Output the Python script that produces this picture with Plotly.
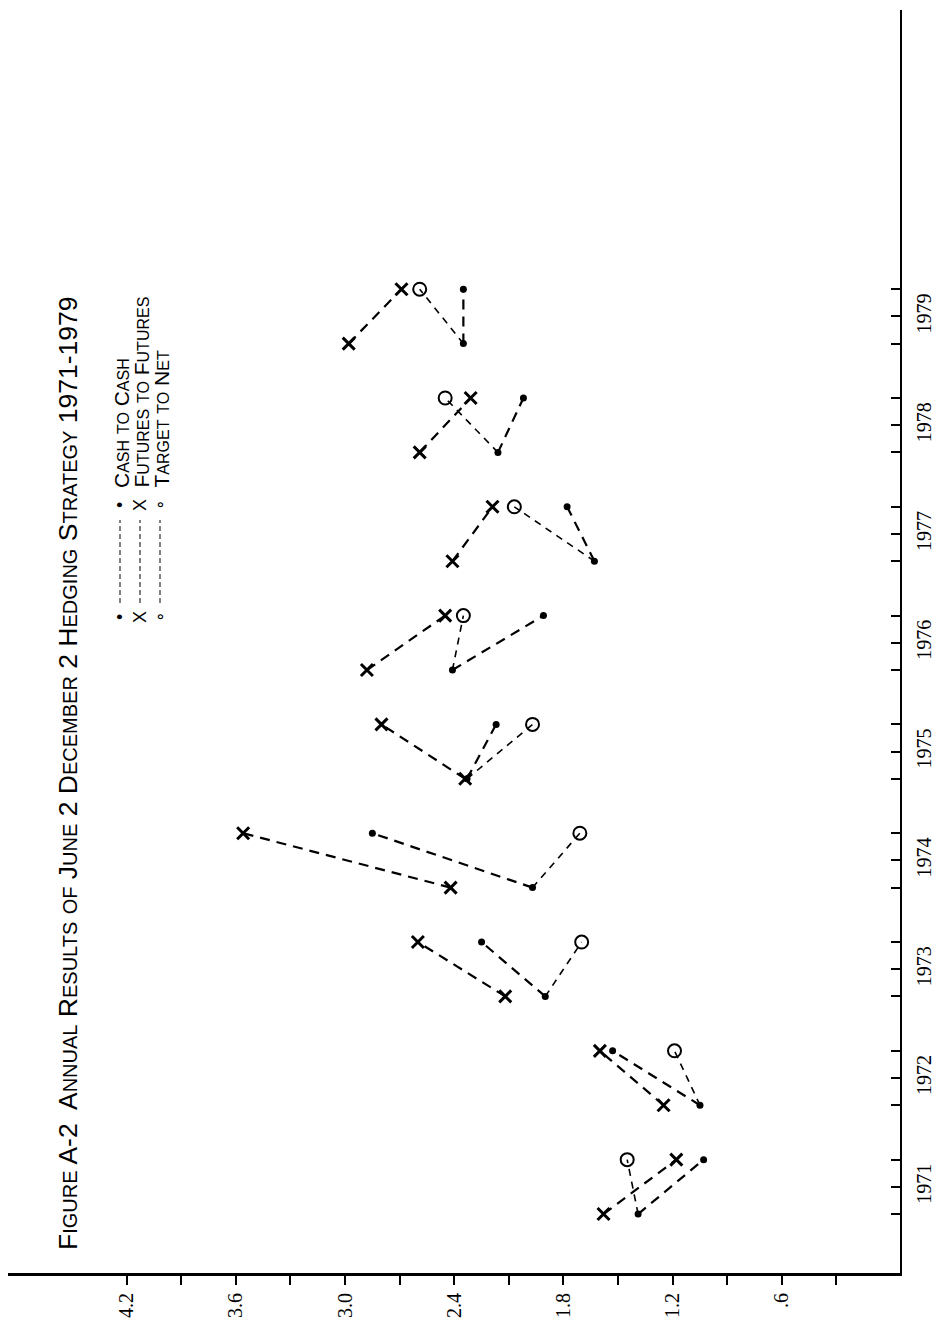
import plotly.graph_objects as go

# ---------------- data ----------------
years = [1971, 1972, 1973, 1974, 1975, 1976, 1977, 1978, 1979]
cash_start    = [1.39, 1.05, 1.90, 1.97, 2.33, 2.41, 1.63, 2.16, 2.35]
cash_end      = [1.03, 1.53, 2.25, 2.85, 2.17, 1.91, 1.78, 2.02, 2.35]
futures_start = [1.58, 1.25, 2.12, 2.42, 2.34, 2.88, 2.41, 2.59, 2.98]
futures_end   = [1.18, 1.60, 2.60, 3.56, 2.80, 2.45, 2.19, 2.31, 2.69]
net_end       = [1.45, 1.19, 1.70, 1.71, 1.97, 2.35, 2.07, 2.45, 2.59]

value_ticks = [0.3, 0.6, 0.9, 1.2, 1.5, 1.8, 2.1, 2.4, 2.7, 3.0, 3.3, 3.6, 3.9, 4.2]
value_text  = ["", ".6", "", "1.2", "", "1.8", "", "2.4", "", "3.0", "", "3.6", "", "4.2"]
year_labels = ["1971", "1972", "1973", "1974", "1975", "1976", "1977", "1978", "1979"]

# ---------------- geometry ----------------
W, H = 948, 1329
PL, PR, PT, PB = 8, 900, 10, 1273          # plot area in pixels
X_LEFT, X_RIGHT = 4.852, -0.049           # value axis (reversed)
Y_BOTTOM, Y_TOP = 1970.208, 1981.816      # time axis


def px(xp):
    return (xp - PL) / (PR - PL)


def py(yp):
    return (PB - yp) / (PB - PT)


def segs(starts, ends):
    xs, ys = [], []
    for yr, s, e in zip(years, starts, ends):
        xs += [s, e, None]
        ys += [yr - 0.25, yr + 0.25, None]
    return xs, ys


def smallcaps(words, big, small):
    out = []
    for w in words:
        if isinstance(w, tuple):
            a, b = w
            s = ""
            if a:
                s += f'<span style="font-size:{big}px">{a}</span>'
            if b:
                s += f'<span style="font-size:{small}px">{b}</span>'
            out.append(s)
        else:
            out.append(f'<span style="font-size:{big}px">{w}</span>')
    return " ".join(out)


DASH = "10px,7px"
fig = go.Figure()

fx, fy = segs(futures_start, futures_end)
cx, cy = segs(cash_start, cash_end)
nx, ny = segs(cash_start, net_end)

fig.add_trace(go.Scatter(x=nx, y=ny, mode="lines",
                         line=dict(color="black", width=1.6, dash="7px,6px"),
                         hoverinfo="skip", showlegend=False))
fig.add_trace(go.Scatter(x=fx, y=fy, mode="lines",
                         line=dict(color="black", width=2.2, dash=DASH),
                         hoverinfo="skip", showlegend=False))
fig.add_trace(go.Scatter(x=cx, y=cy, mode="lines",
                         line=dict(color="black", width=2.2, dash=DASH),
                         hoverinfo="skip", showlegend=False))

fig.add_trace(go.Scatter(x=futures_start + futures_end,
                         y=[y - 0.25 for y in years] + [y + 0.25 for y in years],
                         mode="markers", name="Futures to Futures",
                         marker=dict(symbol="x-thin", size=12, color="black",
                                     line=dict(color="black", width=3)),
                         showlegend=False))
fig.add_trace(go.Scatter(x=cash_start + cash_end,
                         y=[y - 0.25 for y in years] + [y + 0.25 for y in years],
                         mode="markers", name="Cash to Cash",
                         marker=dict(symbol="circle", size=7, color="black"),
                         showlegend=False))
fig.add_trace(go.Scatter(x=net_end, y=[y + 0.25 for y in years],
                         mode="markers", name="Target to Net",
                         marker=dict(symbol="circle-open", size=13, color="black",
                                     line=dict(color="black", width=2)),
                         showlegend=False))

year_tickvals, year_ticktext = [], []
for yr, lab in zip(years, year_labels):
    year_tickvals += [yr - 0.25, yr, yr + 0.25]
    year_ticktext += ["", lab, ""]

TICKFONT = dict(family="Liberation Serif, DejaVu Serif, serif", size=20, color="black")

fig.update_layout(
    width=W, height=H,
    margin=dict(l=PL, r=W - PR, t=PT, b=H - PB, pad=0),
    paper_bgcolor="white", plot_bgcolor="white",
    showlegend=False,
    xaxis=dict(range=[X_LEFT, X_RIGHT], tickvals=value_ticks, ticktext=value_text,
               ticks="outside", ticklen=9, tickwidth=2, tickcolor="black",
               showline=True, linewidth=3, linecolor="black",
               showgrid=False, zeroline=False, tickangle=-90, tickfont=TICKFONT),
    yaxis=dict(range=[Y_BOTTOM, Y_TOP], side="right", tickvals=year_tickvals,
               ticktext=year_ticktext, ticks="inside", ticklen=9, tickwidth=2,
               tickcolor="black", showline=True, linewidth=1.5, linecolor="black",
               showgrid=False, zeroline=False, tickangle=-90, tickfont=TICKFONT,
               ticklabelstandoff=5),
)

SANS = "Liberation Sans Narrow, Liberation Sans, DejaVu Sans Condensed, sans-serif"

title = smallcaps([("F", "IGURE"), "A-2", "", ("A", "NNUAL"), ("R", "ESULTS"), ("", "OF"),
                   ("J", "UNE"), "2", ("D", "ECEMBER"), "2", ("H", "EDGING"),
                   ("S", "TRATEGY"), "1971-1979"], 26.5, 20)
fig.add_annotation(text=title, xref="paper", yref="paper", x=px(68), y=py(1252),
                   xanchor="center", yanchor="bottom", textangle=-90, showarrow=False,
                   font=dict(family=SANS, size=26.5, color="black"))

legend_rows = [
    (120, "•", [("C", "ASH"), ("", "TO"), ("C", "ASH")]),
    (140, "X", [("F", "UTURES"), ("", "TO"), ("F", "UTURES")]),
    (160, "∘", [("T", "ARGET"), ("", "TO"), ("N", "ET")]),
]
for xp, sym, words in legend_rows:
    for yp in (617, 505):
        fig.add_annotation(text=sym, xref="paper", yref="paper", x=px(xp), y=py(yp),
                           xanchor="center", yanchor="middle", textangle=-90,
                           showarrow=False,
                           font=dict(family=SANS, size=18, color="black"))
    fig.add_shape(type="line", xref="paper", yref="paper",
                  x0=px(xp), x1=px(xp), y0=py(603), y1=py(520),
                  line=dict(color="black", width=1, dash="5px,3px"))
    fig.add_annotation(text=smallcaps(words, 21, 16), xref="paper", yref="paper",
                       x=px(xp + 1), y=py(490), xanchor="center", yanchor="bottom",
                       textangle=-90, showarrow=False,
                       font=dict(family=SANS, size=21, color="black"))

fig.write_html("out.html")
